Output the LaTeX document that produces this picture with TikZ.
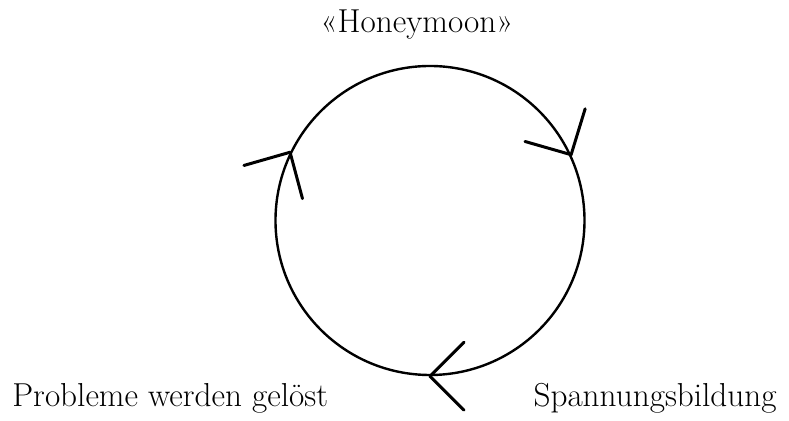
\documentclass[tikz,border=0pt]{standalone}
\usepackage{fontspec}
\usepackage{tikz}
\usetikzlibrary{positioning}

\begin{document}
\begin{tikzpicture}[
    x=0.5pt, y=-0.5pt,
    phase/.style={font=\fontsize{16.6}{20}\selectfont, inner sep=0pt},
    cycle/.style={draw, circle, line width=1.2pt, minimum size=154.5pt, inner sep=0pt},
    barb/.style={line width=1.5pt, line cap=round}
  ]
    \useasboundingbox (0,0) rectangle (789,421);
    \node[cycle] (ring) at (430,220.5) {};
    \node[phase, anchor=base] (honey) at (417,33) {«Honeymoon»};
    \node[phase, anchor=base west] (solved) at (12,407) {Probleme werden gelöst};
    \node[phase, anchor=base east] (tension) at (777,407) {Spannungsbildung};
    % open arrow heads, clockwise
    \draw[barb] (ring.25) -- ++(73:24pt);
    \draw[barb] (ring.25) -- ++(164:24pt);
    \draw[barb] (ring.270) -- ++(45:24pt);
    \draw[barb] (ring.270) -- ++(-45:24pt);
    \draw[barb] (ring.154) -- ++(196:24pt);
    \draw[barb] (ring.154) -- ++(285:24pt);
  \end{tikzpicture}
\end{document}
